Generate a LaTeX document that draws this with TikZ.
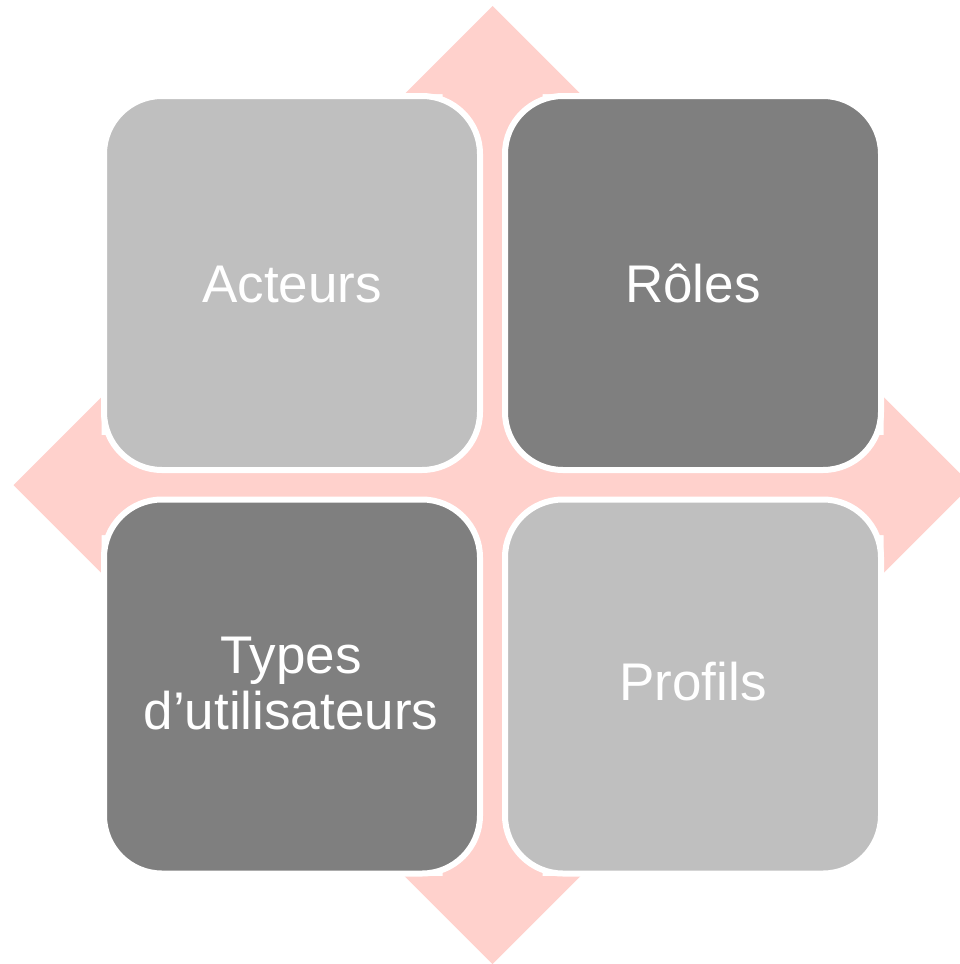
\documentclass[tikz,border=0pt]{standalone}
\usepackage{fontspec}
\setmainfont{Liberation Sans}
\definecolor{crosspink}{RGB}{255,209,204}
\definecolor{lightbox}{RGB}{191,191,191}
\definecolor{darkbox}{RGB}{127,127,127}
\begin{document}
\begin{tikzpicture}[x=1pt,y=-1pt,
  tile/.style={draw=white, line width=6pt, rounded corners=58pt,
    minimum width=376pt, minimum height=374pt, inner sep=0pt},
  tiletext/.style={text=white, font=\fontsize{53}{56}\selectfont,
    inner sep=0pt, align=center}]
\useasboundingbox (0,0) rectangle (960,964);
\clip (0,0) rectangle (960,964);
% background four-way arrow
\begin{scope}[shift={(492.5,485)}]
\fill[crosspink]
  (-50,-391) -- (-88,-391) -- (0,-479) -- (88,-391) -- (50,-391)
  -- (50,-50) -- (391,-50) -- (391,-88) -- (479,0) -- (391,88) -- (391,50)
  -- (50,50) -- (50,391) -- (88,391) -- (0,479) -- (-88,391) -- (-50,391)
  -- (-50,50) -- (-391,50) -- (-391,88) -- (-479,0) -- (-391,-88) -- (-391,-50)
  -- (-50,-50) -- cycle;
\end{scope}
% tiles
\node[tile, fill=lightbox] (acteurs) at (292,283) {};
\node[tile, fill=darkbox]  (roles)   at (693,283) {};
\node[tile, fill=darkbox]  (types)   at (292,686.5) {};
\node[tile, fill=lightbox] (profils) at (693,686.5) {};
% texts
\node[tiletext, anchor=base] (tacteurs) at (292,302) {Acteurs};
\node[tiletext, anchor=base] (troles)   at (693,302) {Rôles};
\node[tiletext, anchor=center] (ttypes) at (291,684) {Types\\d’utilisateurs};
\node[tiletext, anchor=base] (tprofils) at (693,700.5) {Profils};
\end{tikzpicture}
\end{document}
